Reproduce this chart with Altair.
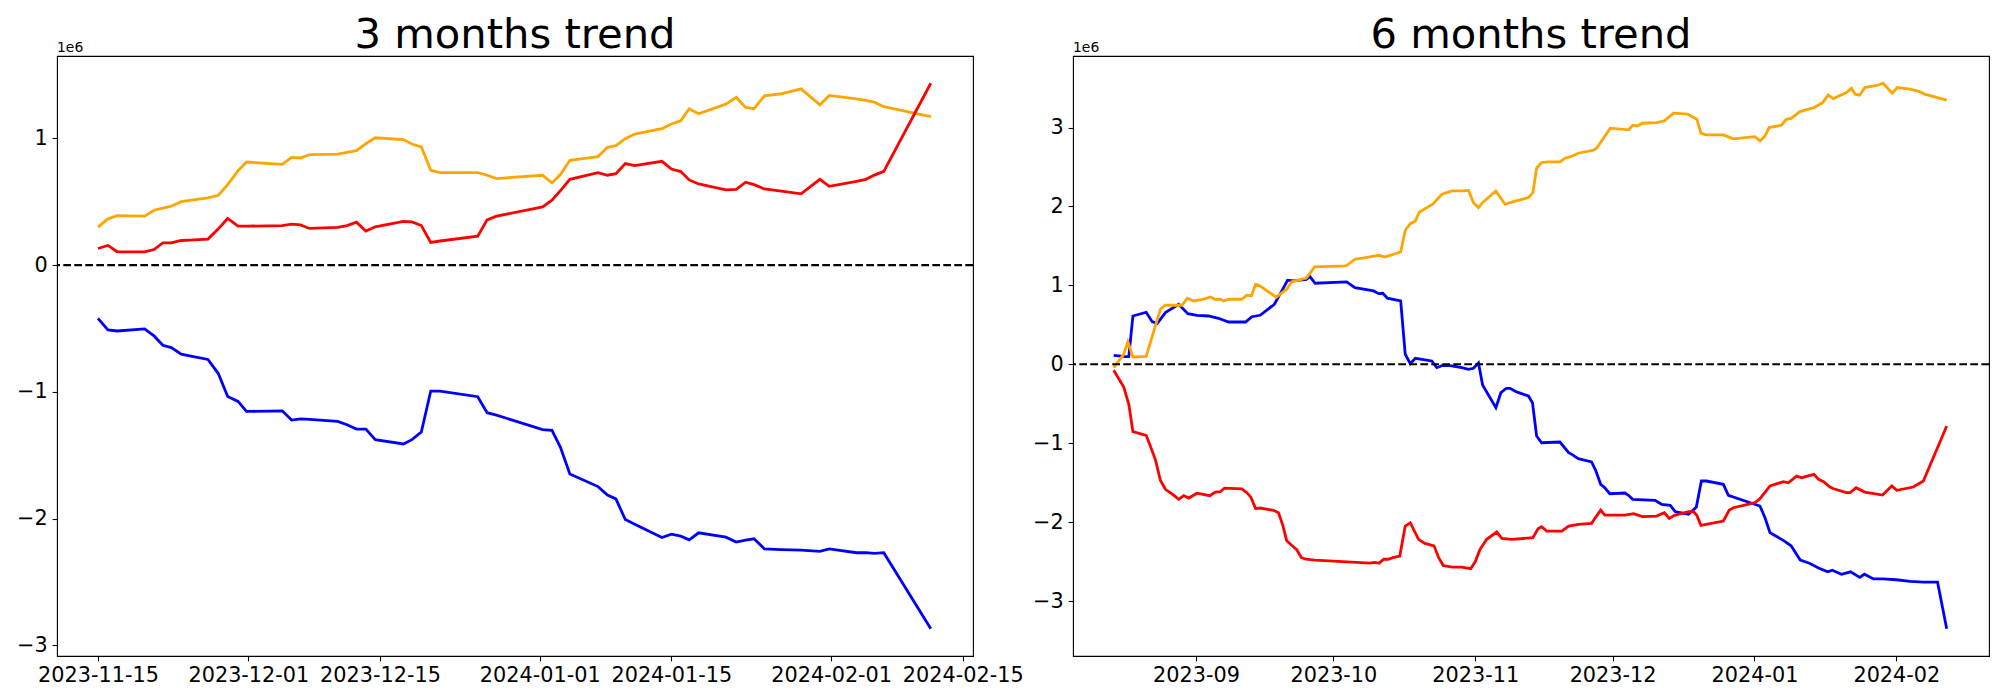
import altair as alt
import pandas as pd

# ---------------- 3 months panel (day offsets from L_START, values in millions)
L_START = "2023-11-15"
L_DAYS = [0, 1.06, 2.05, 4.96, 5.96, 6.9, 7.8, 8.86, 9.74, 11.7, 12.8, 13.8, 14.9, 15.8,
          19.6, 20.6, 21.55, 22.5, 25.5, 26.5, 27.5, 28.5, 29.5, 32.5, 33.4, 34.4, 35.4,
          36.4, 40.4, 41.4, 42.4, 47.3, 48.3, 49.2, 50.2, 53.2, 54.2, 55.1, 56.1, 57.1,
          60.0, 61.0, 62.0, 62.9, 63.9, 66.8, 67.9, 68.9, 69.8, 70.9, 72.7, 74.8, 76.8,
          77.8, 80.7, 81.7, 82.6, 83.6, 88.6]
L_ORANGE = [0.30, 0.365, 0.39, 0.386, 0.433, 0.449, 0.465, 0.50, 0.51, 0.53, 0.551, 0.635,
            0.745, 0.813, 0.795, 0.85, 0.845, 0.871, 0.876, 0.89, 0.903, 0.958, 1.005, 0.99,
            0.955, 0.932, 0.748, 0.73, 0.73, 0.709, 0.683, 0.709, 0.648, 0.714, 0.827, 0.856,
            0.929, 0.942, 0.997, 1.034, 1.076, 1.113, 1.139, 1.234, 1.194, 1.27, 1.323, 1.244,
            1.234, 1.336, 1.352, 1.391, 1.265, 1.339, 1.312, 1.30, 1.286, 1.25, 1.171]
L_RED = [0.131, 0.155, 0.105, 0.105, 0.123, 0.176, 0.176, 0.194, 0.197, 0.205, 0.286, 0.368,
         0.307, 0.307, 0.312, 0.323, 0.317, 0.289, 0.297, 0.312, 0.339, 0.268, 0.302, 0.344,
         0.341, 0.312, 0.179, 0.19, 0.228, 0.357, 0.386, 0.459, 0.512, 0.588, 0.677, 0.73,
         0.709, 0.722, 0.801, 0.785, 0.819, 0.758, 0.738, 0.672, 0.64, 0.593, 0.598, 0.654,
         0.635, 0.601, 0.583, 0.562, 0.677, 0.622, 0.661, 0.677, 0.71, 0.74, 1.435]
L_BLUE = [-0.42, -0.512, -0.52, -0.504, -0.559, -0.633, -0.651, -0.703, -0.717, -0.745, -0.856,
          -1.037, -1.076, -1.155, -1.15, -1.223, -1.213, -1.218, -1.234, -1.26, -1.294, -1.294,
          -1.378, -1.412, -1.378, -1.317, -0.995, -0.995, -1.039, -1.165, -1.184, -1.299, -1.305,
          -1.438, -1.648, -1.748, -1.814, -1.845, -2.008, -2.045, -2.150, -2.124, -2.139, -2.168,
          -2.113, -2.147, -2.186, -2.17, -2.16, -2.24, -2.245, -2.25, -2.26, -2.24, -2.27, -2.27,
          -2.275, -2.27, -2.87]

# ---------------- 6 months panel (day offsets from R_START, values in millions)
R_START = "2023-08-14"
R_ORANGE_DAYS = [0, 2.2, 3.1, 4.2, 7.1, 10.2, 11.3, 14.9, 16.1, 17.5, 19.7, 21.1, 22.2, 23.3, 24,
                 25.1, 28, 29.1, 30.1, 31, 32, 35.5, 37.8, 38.9, 42.1, 43.9, 50.8, 52.7, 55, 57.9,
                 59.3, 61.1, 62.7, 63.7, 64.8, 65.9, 66.8, 69.7, 71.7, 73.9, 76.4, 77.5, 78.6, 79.7,
                 80.8, 83.5, 85.5, 87.3, 90.6, 91.6, 92.4, 93.5, 95, 97.5, 98.6, 99.7, 101.5, 104.8,
                 105.5, 108.5, 112.5, 113.4, 114.4, 115.5, 118.6, 120.3, 122.3, 125.4, 127.4, 128.3,
                 129.4, 133.2, 134.3, 135.4, 140.1, 141.2, 142.3, 143.2, 145.9, 146.9, 148.1, 149.9,
                 153, 154.9, 156.1, 157.2, 160.1, 161.2, 162, 163, 164.1, 167, 168.1, 170.1, 171.2,
                 174, 176.2, 177.2, 182]
R_ORANGE = [-0.043, 0.127, 0.287, 0.093, 0.101, 0.697, 0.748, 0.748, 0.837, 0.802, 0.824, 0.853,
            0.824, 0.824, 0.802, 0.824, 0.824, 0.875, 0.866, 1.014, 0.992, 0.85, 0.951, 1.045,
            1.092, 1.233, 1.246, 1.331, 1.351, 1.381, 1.360, 1.394, 1.423, 1.698, 1.782, 1.816,
            1.930, 2.028, 2.155, 2.196, 2.196, 2.205, 2.048, 1.985, 2.061, 2.196, 2.028, 2.061,
            2.112, 2.175, 2.484, 2.555, 2.564, 2.564, 2.611, 2.627, 2.674, 2.712, 2.738, 2.991,
            2.970, 3.029, 3.020, 3.054, 3.062, 3.084, 3.181, 3.169, 3.105, 2.928, 2.906, 2.906,
            2.881, 2.856, 2.885, 2.830, 2.894, 2.999, 3.029, 3.100, 3.118, 3.201, 3.252, 3.316,
            3.413, 3.366, 3.442, 3.498, 3.422, 3.409, 3.506, 3.536, 3.561, 3.435, 3.506, 3.485,
            3.451, 3.422, 3.346]
R_RED_DAYS = [0, 2.2, 3.3, 4.2, 7.1, 8, 9.1, 10.2, 11.3, 13.1, 14.2, 15.3, 16.4, 18.2, 21, 22.2,
              23.3, 24.2, 28, 29.1, 30, 31, 32, 34.9, 36, 37, 37.8, 39, 40, 41, 42, 44, 47, 50, 53,
              56, 57, 58, 59, 60, 61, 62.5, 63.7, 64.8, 66.6, 68, 70, 71, 72, 74, 76, 78, 79, 80,
              81.5, 83.7, 84.8, 87, 91.6, 92.7, 93.5, 94.6, 97.9, 99.4, 101.5, 104.4, 106.4, 107.3,
              111.7, 113.6, 115.5, 118.6, 120.3, 121.4, 122.5, 125.6, 126.7, 127.4, 128.3, 133.2,
              134.5, 135.4, 140.1, 141.2, 143.4, 146.3, 147.4, 149.2, 150.3, 153, 154, 155.1, 156.5,
              157.3, 160.1, 160.9, 162.2, 164.1, 168, 170, 171.1, 174.7, 176.9, 182]
R_RED = [-0.076, -0.288, -0.507, -0.854, -0.9, -1.035, -1.204, -1.470, -1.584, -1.657, -1.711,
         -1.663, -1.695, -1.633, -1.665, -1.619, -1.615, -1.57, -1.578, -1.627, -1.687, -1.828,
         -1.821, -1.850, -1.88, -2.05, -2.235, -2.30, -2.35, -2.45, -2.47, -2.48, -2.49, -2.50,
         -2.51, -2.52, -2.51, -2.52, -2.47, -2.47, -2.45, -2.43, -2.049, -2.007, -2.218, -2.27,
         -2.30, -2.45, -2.55, -2.57, -2.57, -2.59, -2.50, -2.35, -2.218, -2.125, -2.205, -2.218,
         -2.197, -2.084, -2.058, -2.113, -2.113, -2.049, -2.028, -2.015, -1.847, -1.91, -1.91,
         -1.893, -1.931, -1.923, -1.881, -1.952, -1.914, -1.868, -1.868, -1.914, -2.041, -1.986,
         -1.847, -1.817, -1.754, -1.703, -1.542, -1.488, -1.501, -1.416, -1.437, -1.394, -1.458,
         -1.488, -1.555, -1.577, -1.627, -1.627, -1.564, -1.619, -1.657, -1.542, -1.597, -1.555,
         -1.479, -0.782]
R_BLUE_DAYS = [0, 2.6, 3.3, 4.2, 7.1, 8.4, 9.5, 11.3, 14.2, 16.2, 18.2, 20.7, 22.9, 25.1, 28.8,
               30.2, 32, 35.1, 36.4, 38, 39.3, 42.1, 42.9, 44, 50.9, 52.7, 56.8, 57.9, 58.8, 59.8,
               62.7, 63.7, 64.8, 65.9, 69.5, 70.6, 71.7, 73.5, 76.1, 77.5, 78.6, 79.7, 80.6, 83.5,
               84.6, 85.8, 86.6, 87.9, 90.6, 91.5, 92.4, 93.5, 97.5, 99.4, 100.1, 101.5, 104.4,
               105.3, 106.4, 107.3, 108.4, 111.7, 112.4, 113.4, 118.3, 119.7, 121.6, 122.7, 125.6,
               127.3, 128.4, 129.5, 133.2, 134.3, 141.2, 142.3, 143.4, 146.3, 148, 150, 152, 154,
               156, 157, 159, 161, 163, 164, 166, 168, 171, 174, 177, 180, 182]
R_BLUE = [0.114, 0.096, 0.096, 0.612, 0.659, 0.54, 0.515, 0.654, 0.76, 0.642, 0.621, 0.612, 0.583,
          0.536, 0.536, 0.603, 0.621, 0.76, 0.895, 1.065, 1.056, 1.077, 1.11, 1.027, 1.043, 0.971,
          0.929, 0.895, 0.9, 0.837, 0.802, 0.127, 0.008, 0.076, 0.042, -0.043, -0.018, -0.018,
          -0.043, -0.063, -0.051, 0.016, -0.262, -0.55, -0.36, -0.304, -0.304, -0.347, -0.402,
          -0.487, -0.909, -0.994, -0.985, -1.12, -1.141, -1.196, -1.238, -1.344, -1.521, -1.564,
          -1.640, -1.631, -1.657, -1.711, -1.724, -1.774, -1.787, -1.868, -1.901, -1.809, -1.479,
          -1.479, -1.521, -1.660, -1.796, -1.944, -2.134, -2.231, -2.30, -2.48, -2.52, -2.58,
          -2.63, -2.61, -2.66, -2.63, -2.70, -2.66, -2.72, -2.72, -2.73, -2.75, -2.76, -2.76, -3.35]

L_XTICKS = ["2023-11-15", "2023-12-01", "2023-12-15", "2024-01-01", "2024-01-15", "2024-02-01", "2024-02-15"]
R_XTICKS = ["2023-09-01", "2023-10-01", "2023-11-01", "2023-12-01", "2024-01-01", "2024-02-01"]
L_YTICKS = [-3, -2, -1, 0, 1]
R_YTICKS = [-3, -2, -1, 0, 1, 2, 3]

EPOCH = pd.Timestamp("1970-01-01")


def ms(ts):
    return int((ts - EPOCH) / pd.Timedelta(milliseconds=1))


def frame(start, days, vals):
    assert len(days) == len(vals)
    s = pd.Timestamp(start)
    return pd.DataFrame({"t": [ms(s + pd.Timedelta(days=d)) for d in days], "v": vals})


W, H = 916, 600
FONT = "DejaVu Sans"


def panel(title, start, series, xpad, xfmt, xticks, ydom, yticks):
    s = pd.Timestamp(start)
    xs = alt.Scale(type="utc", domain=[ms(s + pd.Timedelta(days=xpad[0])), ms(s + pd.Timedelta(days=xpad[1]))], nice=False)
    ys = alt.Scale(domain=ydom, nice=False, zero=False)
    xax = alt.Axis(values=[ms(pd.Timestamp(d)) for d in xticks],
                   labelExpr=f"utcFormat(datum.value, '{xfmt}')",
                   title=None, labelFlush=False, labelOverlap=False)
    yax = alt.Axis(values=yticks, format="d", title=None, labelFlush=False, labelOverlap=False)
    X = alt.X("t:T", scale=xs, axis=xax)
    Y = alt.Y("v:Q", scale=ys, axis=yax)
    layers = []
    for days, vals, color in series:
        layers.append(alt.Chart(frame(start, days, vals)).mark_line(
            color=color, strokeWidth=2.8, clip=True).encode(x=X, y=Y))
    layers.append(alt.Chart(pd.DataFrame({"v": [0.0]})).mark_rule(
        color="black", strokeDash=[7.7, 3.3], strokeWidth=2.1).encode(y=Y))
    one = pd.DataFrame({"a": [0]})
    layers.append(alt.Chart(one).mark_text(
        text=title, font=FONT, fontSize=41.7, align="center", baseline="alphabetic",
        color="black").encode(x=alt.value(W / 2), y=alt.value(-8.3)))
    layers.append(alt.Chart(one).mark_text(
        text="1e6", font=FONT, fontSize=13.9, align="left", baseline="alphabetic",
        color="black").encode(x=alt.value(0), y=alt.value(-4.5)))
    return alt.layer(*layers).properties(width=W, height=H)


left = panel("3 months trend", L_START,
             [(L_DAYS, L_BLUE, "#0000ff"), (L_DAYS, L_ORANGE, "#ffa500"), (L_DAYS, L_RED, "#ff0000")],
             (-4.36, 93.09), "%Y-%m-%d", L_XTICKS, [-3.085, 1.65], L_YTICKS)
right = panel("6 months trend", R_START,
              [(R_BLUE_DAYS, R_BLUE, "#0000ff"), (R_ORANGE_DAYS, R_ORANGE, "#ffa500"),
               (R_RED_DAYS, R_RED, "#ff0000")],
              (-8.89, 191.24), "%Y-%m", R_XTICKS, [-3.696, 3.906], R_YTICKS)

chart = alt.hconcat(left, right, spacing=7).properties(
    padding={"left": 7, "top": 6, "right": 0, "bottom": 0},
    background="white",
).configure_view(stroke="black", strokeWidth=1.1).configure_axis(
    labelFont=FONT, labelFontSize=20.8, labelColor="black", tickColor="black",
    tickWidth=1.1, tickSize=4.9, labelPadding=4.9, domain=False, grid=False)

chart.save("out.html", embed_options={"renderer": "svg", "actions": False})
